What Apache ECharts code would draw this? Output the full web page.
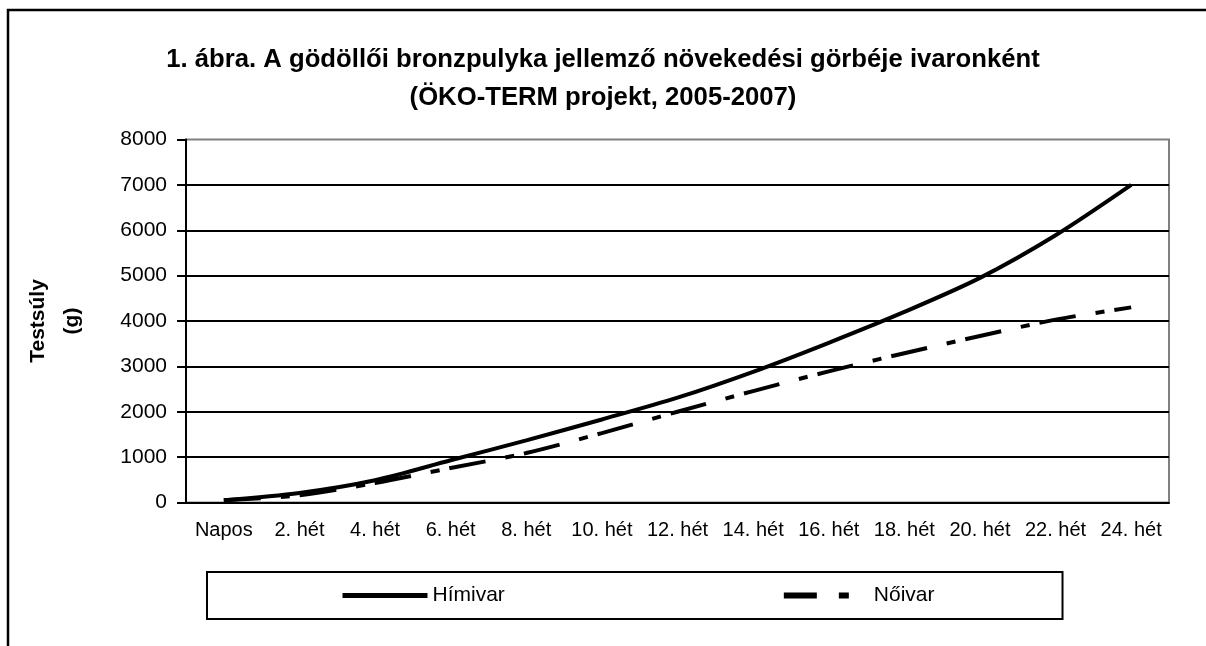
<html lang="hu">
  <head>
    <meta charset="UTF-8" />
    <title>Bronzpulyka növekedési görbe</title>
    <style>
      html, body { margin: 0; padding: 0; background: #fff; }
    </style>
  </head>
  <body>
    <div id="main" style="width: 1206px; height: 646px"></div>

    <script src="https://cdn.jsdelivr.net/npm/echarts@6/dist/echarts.min.js"></script>
    <script>
      // életkor (kategóriák)
      const weeks = ['Napos', '2. hét', '4. hét', '6. hét', '8. hét', '10. hét', '12. hét',
        '14. hét', '16. hét', '18. hét', '20. hét', '22. hét', '24. hét']
      // testsúly (g), leolvasva az ábráról
      const himivar = [50, 210, 490, 930, 1370, 1830, 2310, 2880, 3520, 4200, 4950, 5890, 7000]
      const noivar = [50, 160, 430, 760, 1090, 1530, 2000, 2455, 2890, 3290, 3670, 4030, 4300]

      const font = '"Liberation Sans", Arial, sans-serif'

      let option = {
        animation: false,
        title: {
          text: '1. ábra. A gödöllői bronzpulyka jellemző növekedési görbéje ivaronként\n(ÖKO-TERM projekt, 2005-2007)',
          left: 'center',
          top: 41,
          padding: 0,
          textStyle: {
            fontFamily: font,
            fontWeight: 'bold',
            fontSize: 25.7,
            lineHeight: 38,
            color: '#000'
          }
        },
        graphic: [
          {
            // külső keret (csak a bal és a felső éle látszik)
            type: 'rect',
            shape: { x: 8, y: 10, width: 1400, height: 800 },
            style: { fill: 'none', stroke: '#000', lineWidth: 2.5 },
            silent: true
          }
        ],
        grid: {
          left: 186,
          right: 37,
          top: 139.5,
          bottom: 143.5,
          outerBoundsMode: 'none',
          show: true,
          borderColor: '#808080',
          borderWidth: 2
        },
        legend: {
          left: 207,
          top: 572,
          padding: [13, 128, 13, 133],
          itemGap: 276,
          itemWidth: 85,
          itemHeight: 14,
          borderColor: '#000',
          borderWidth: 2,
          itemStyle: { color: 'transparent', borderWidth: 0 },
          lineStyle: { width: 5 },
          textStyle: { fontFamily: font, fontSize: 21, color: '#000' },
          data: [
            'Hímivar',
            // a jelmagyarázatban rövid vonás + pont
            { name: 'Nőivar', lineStyle: { width: 6, type: [33, 22, 10, 100] } }
          ]
        },
        xAxis: {
          type: 'category',
          data: weeks,
          boundaryGap: true,
          axisLine: { lineStyle: { color: '#000', width: 2 } },
          axisTick: { interval: 0, length: 6, lineStyle: { color: '#000', width: 2 } },
          axisLabel: {
            interval: 0,
            margin: 18,
            fontFamily: font,
            fontSize: 20,
            color: '#000'
          }
        },
        yAxis: {
          type: 'value',
          min: 0,
          max: 8000,
          interval: 1000,
          name: 'Testsúly\n(g)',
          nameLocation: 'middle',
          nameRotate: 90,
          nameGap: 97,
          nameTextStyle: {
            fontFamily: font,
            fontWeight: 'bold',
            fontSize: 21,
            lineHeight: 34,
            color: '#000'
          },
          axisLine: { show: true, lineStyle: { color: '#000', width: 2 } },
          axisTick: { show: true, length: 9, lineStyle: { color: '#000', width: 2 } },
          axisLabel: {
            margin: 19,
            fontFamily: font,
            fontSize: 21,
            color: '#000',
            formatter: (v) => String(v)
          },
          splitLine: {
            showMaxLine: false,
            lineStyle: { color: '#000', width: 2 }
          }
        },
        series: [
          {
            name: 'Hímivar',
            type: 'line',
            data: himivar,
            smooth: 0.3,
            symbol: 'none',
            lineStyle: { color: '#000', width: 4 },
            itemStyle: { color: '#000' }
          },
          {
            name: 'Nőivar',
            type: 'line',
            data: noivar,
            smooth: 0.3,
            symbol: 'none',
            // hosszú szaggatott – pont vonal
            lineStyle: { color: '#000', width: 4, type: [37, 20, 9, 10] },
            itemStyle: { color: '#000' }
          }
        ]
      }
      echarts.init(document.querySelector('#main')).setOption(option)
    </script>
  </body>
</html>
